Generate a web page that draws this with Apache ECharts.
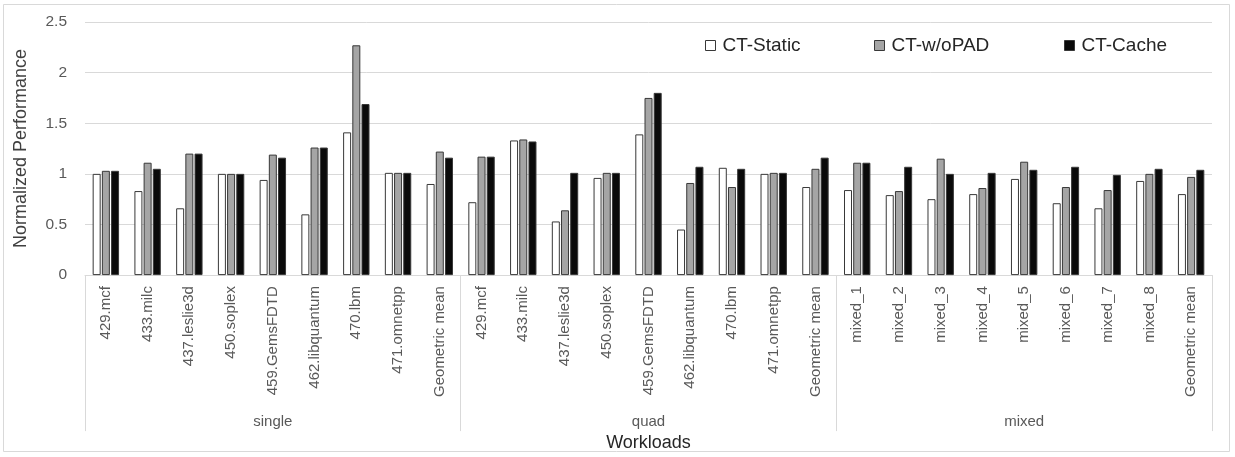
<!DOCTYPE html>
<html>
<head>
<meta charset="utf-8">
<script src="https://cdn.jsdelivr.net/npm/echarts@6/dist/echarts.min.js"></script>
<style>
html,body{margin:0;padding:0;background:#fff;}
#chart{width:1235px;height:457px;}
</style>
</head>
<body>
<div id="chart"></div>
<script>
const categories = [
  '429.mcf','433.milc','437.leslie3d','450.soplex','459.GemsFDTD','462.libquantum','470.lbm','471.omnetpp','Geometric mean',
  '429.mcf','433.milc','437.leslie3d','450.soplex','459.GemsFDTD','462.libquantum','470.lbm','471.omnetpp','Geometric mean',
  'mixed_1','mixed_2','mixed_3','mixed_4','mixed_5','mixed_6','mixed_7','mixed_8','Geometric mean'
];
const groups = ['single','quad','mixed'];
const seriesNames = ['CT-Static','CT-w/oPAD','CT-Cache'];
const ctStatic = [1.00,0.83,0.66,1.00,0.94,0.60,1.41,1.01,0.90, 0.72,1.33,0.53,0.96,1.39,0.45,1.06,1.00,0.87, 0.84,0.79,0.75,0.80,0.95,0.71,0.66,0.93,0.80];
const ctWoPad  = [1.03,1.11,1.20,1.00,1.19,1.26,2.27,1.01,1.22, 1.17,1.34,0.64,1.01,1.75,0.91,0.87,1.01,1.05, 1.11,0.83,1.15,0.86,1.12,0.87,0.84,1.00,0.97];
const ctCache  = [1.03,1.05,1.20,1.00,1.16,1.26,1.69,1.01,1.16, 1.17,1.32,1.01,1.01,1.80,1.07,1.05,1.01,1.16, 1.11,1.07,1.00,1.01,1.04,1.07,0.99,1.05,1.04];
const yTicks = [0, 0.5, 1, 1.5, 2, 2.5];

const FONT = '"Liberation Sans", Arial, sans-serif';
const fills = ['#ffffff','#a5a5a5','#0a0a0a'];
const valuesList = [ctStatic, ctWoPad, ctCache];

const chart = echarts.init(document.getElementById('chart'), null, {renderer:'canvas'});

const series = seriesNames.map((n,i)=>({
  name: n,
  type: 'bar',
  xAxisIndex: 0,
  data: valuesList[i],
  barWidth: 8,
  barGap: '15%',
  itemStyle: {color: fills[i], borderColor: '#383838', borderWidth: 1},
  emphasis: {disabled: true},
  animation: false
}));

const legendLefts = [705, 874, 1064];
const legends = seriesNames.map((n,i)=>({
  data: [n],
  left: legendLefts[i],
  top: 36,
  padding: 0,
  itemWidth: 10,
  itemHeight: 10,
  itemGap: 0,
  icon: 'rect',
  selectedMode: false,
  itemStyle: {borderColor: '#383838', borderWidth: 1},
  textStyle: {fontFamily: FONT, fontSize: 19, color: '#262626', padding: [0,0,0,2]}
}));

chart.setOption({
  animation: false,
  backgroundColor: '#ffffff',
  textStyle: {fontFamily: FONT},
  graphic: [{
    type: 'rect',
    shape: {x: 3.5, y: 4.5, width: 1226, height: 447},
    style: {fill: 'none', stroke: '#d9d9d9', lineWidth: 1},
    silent: true
  }],
  legend: legends,
  grid: {left: 85, right: 23, top: 22, bottom: 181.5, containLabel: false},
  xAxis: [{
    type: 'category',
    data: categories,
    position: 'bottom',
    axisLine: {show: true, lineStyle: {color: '#d9d9d9', width: 1}},
    axisTick: {show: false},
    axisLabel: {rotate: 90, margin: 11, fontSize: 15, color: '#595959', fontFamily: FONT, interval: 0},
    splitLine: {show: false}
  }, {
    type: 'category',
    data: groups,
    position: 'bottom',
    gridIndex: 0,
    axisLine: {show: false},
    axisTick: {show: true, length: 156, lineStyle: {color: '#d9d9d9', width: 1}},
    axisLabel: {margin: 139, fontSize: 15, color: '#595959', fontFamily: FONT},
    splitLine: {show: false},
    name: 'Workloads',
    nameLocation: 'middle',
    nameGap: 153,
    nameTextStyle: {fontSize: 18, color: '#262626', fontFamily: FONT}
  }],
  yAxis: {
    type: 'value',
    min: 0,
    max: 2.5,
    interval: 0.5,
    axisLine: {show: false},
    axisTick: {show: false},
    axisLabel: {margin: 18, fontSize: 15.5, color: '#595959', fontFamily: FONT,
      formatter: v => String(yTicks.find(t => Math.abs(t - v) < 1e-9) ?? v)},
    splitLine: {show: true, lineStyle: {color: '#d9d9d9', width: 1}},
    name: 'Normalized Performance',
    nameLocation: 'middle',
    nameGap: 55,
    nameRotate: 90,
    nameTextStyle: {fontSize: 18, color: '#404040', fontFamily: FONT}
  },
  series: series
});
</script>
</body>
</html>
